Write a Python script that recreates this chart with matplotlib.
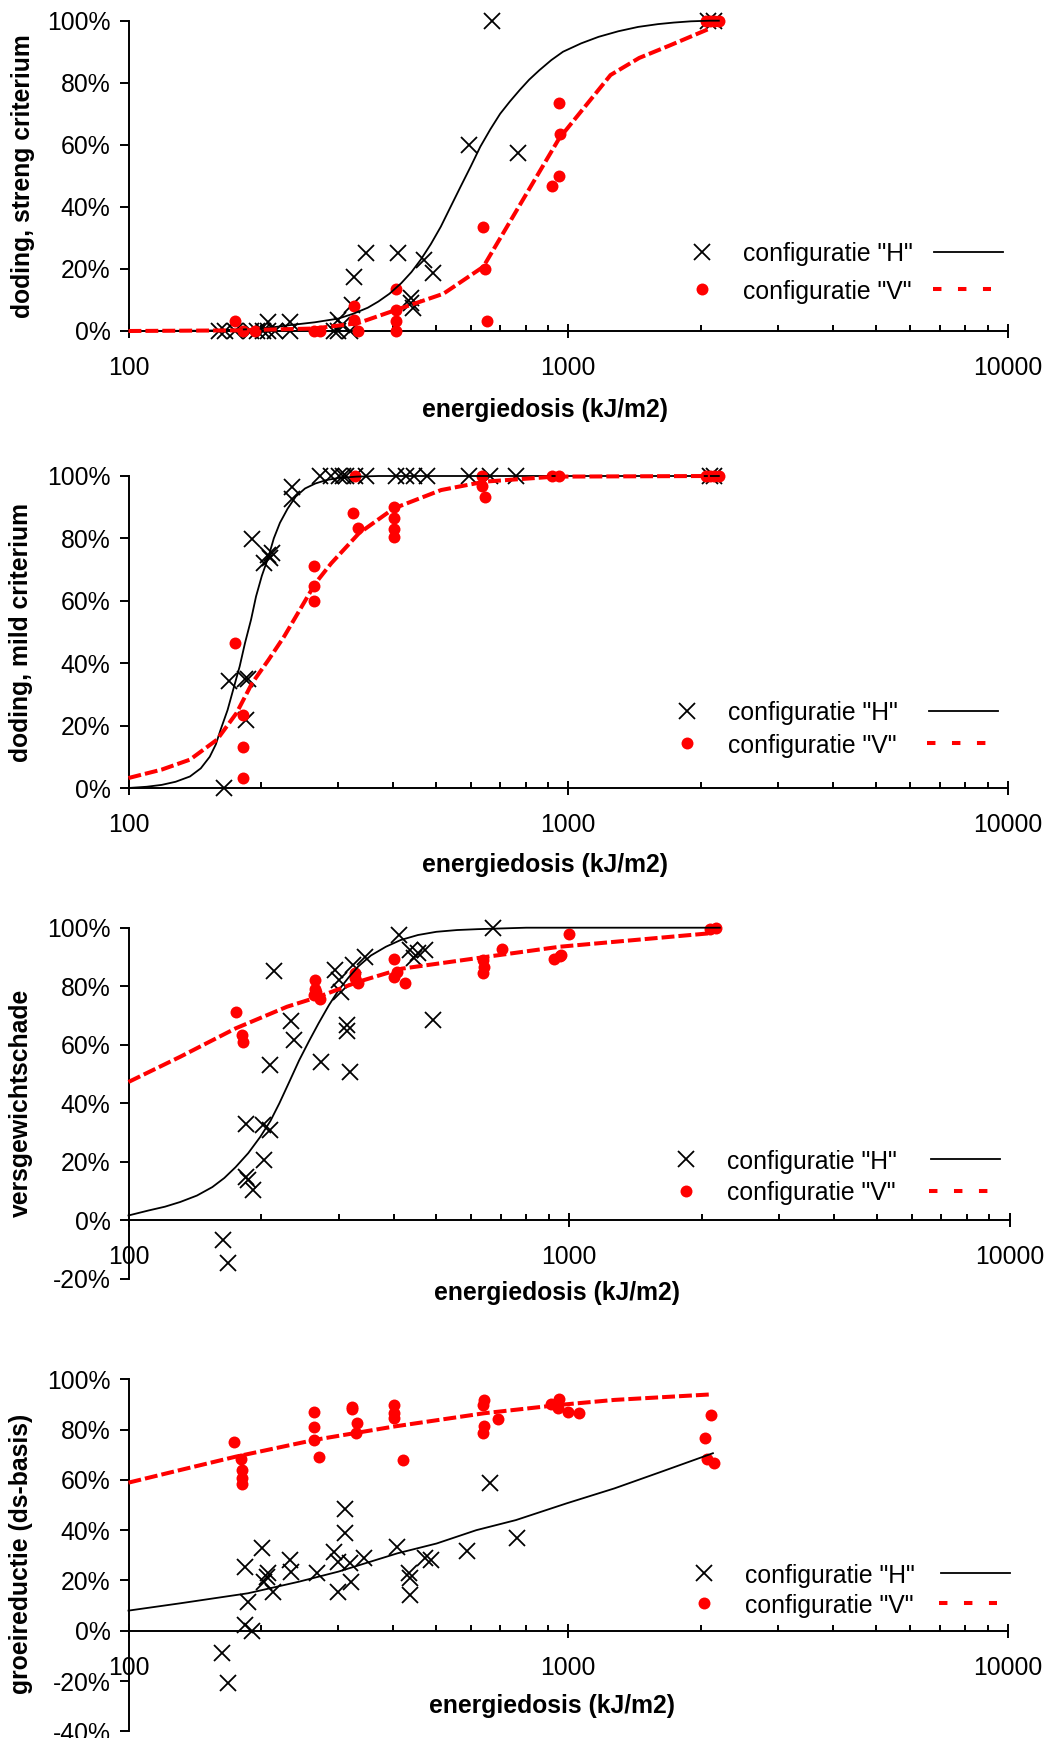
import matplotlib
matplotlib.use("Agg")
import matplotlib.pyplot as plt
from matplotlib.ticker import FixedLocator, NullFormatter
from matplotlib.lines import Line2D

plt.rcParams['font.family'] = ['Liberation Sans', 'DejaVu Sans']

# ---------------- data (energiedosis kJ/m2, percentages) ----------------
# Panel 1: doding, streng criterium
p1_h_x = [161, 166, 175, 190, 196, 202, 208, 208, 215, 233, 233, 293, 299, 299, 306, 319,
          322, 325, 347, 411, 440, 440, 443, 470, 492, 595, 671, 767, 2080, 2150]
p1_h_y = [0, 0, 0, 0, 0, 0, 3, 0, 0, 3, 0, 0, 3.5, 0, 2, 0,
          8.4, 17.5, 25, 25, 10.5, 9, 7.3, 22.9, 18.8, 60, 100, 57.5, 100, 100]
p1_v_x = [175, 182, 194, 264, 272, 325, 325, 332, 406, 406, 406, 406, 641, 646, 653,
          920, 953, 953, 959, 2060, 2100, 2150, 2200]
p1_v_y = [3.3, 0, 0, 0, 0, 8, 3.5, 0, 13.4, 6.8, 3.3, 0, 33.4, 20, 3.3,
          46.7, 50, 73.4, 63.4, 100, 100, 100, 100]
p1_hfit_x = [100, 150, 200, 233, 265, 300, 325, 350, 370, 392, 417, 440, 462, 487, 513, 540,
             569, 600, 631, 665, 700, 737, 776, 815, 859, 915, 973, 1070, 1172, 1300, 1442,
             1600, 1738, 1900, 2094, 2200]
p1_hfit_y = [0, 0.1, 0.7, 1.9, 2.8, 4, 5.6, 7.5, 9.5, 12, 15.4, 19, 23, 28, 33.6, 40,
             46.5, 53, 59.4, 65, 70, 74, 77.7, 81, 84, 87.3, 90, 92.7, 94.8, 96.6, 98,
             98.9, 99.4, 99.8, 100, 100]
p1_vfit_x = [100, 175, 264, 332, 406, 520, 641, 953, 1248, 1450, 1700, 2100]
p1_vfit_y = [0, 0.2, 0.8, 2.5, 6.8, 12, 20.7, 62, 82.5, 88, 92, 97.5]

# Panel 2: doding, mild criterium
p2_h_x = [165, 169, 184.5, 187, 185, 191, 203, 208, 212, 210, 235, 235, 272, 289, 301, 307,
          313, 327, 347, 405, 427, 445, 478, 594, 665, 760, 2100, 2150]
p2_h_y = [0, 34.4, 34.9, 35, 21.9, 79.7, 72, 74.7, 75.2, 73.6, 92.5, 96.5, 100, 100, 100, 100,
          100, 100, 100, 100, 100, 100, 100, 100, 100, 100, 100, 100]
p2_v_x = [175, 182, 182, 182, 264, 264, 264, 324, 332, 327, 402, 402, 402, 402, 638, 638,
          647, 920, 953, 2060, 2100, 2150, 2200]
p2_v_y = [46.6, 23.3, 13.3, 3.2, 71, 64.6, 60, 88, 83.2, 100, 90, 86.4, 83, 80.6, 100, 96.8,
          93.2, 100, 100, 100, 100, 100, 100]
p2_hfit_x = [100, 110, 119, 128, 138, 146, 153, 158, 162, 168, 173, 179, 184, 190, 195, 201,
             208, 214, 221, 230, 240, 252, 266, 282, 301, 330, 370, 2200]
p2_hfit_y = [0, 0.4, 1, 2, 3.7, 6.3, 10, 14, 18.7, 25, 31.5, 39, 46.4, 54, 61.4, 68,
             74, 80, 85, 89.5, 93.4, 96, 97.6, 98.7, 99.4, 99.8, 100, 100]
p2_vfit_x = [100, 119, 138, 159, 176, 191, 208, 226, 245, 266, 289, 334, 401, 514, 646, 933, 2100]
p2_vfit_y = [3.2, 5.9, 9.1, 15.5, 24, 33.6, 41, 48.6, 57, 65.6, 72, 81.6, 89.6, 95.5, 98.2, 99.8, 100]

# Panel 3: versgewichtschade
p3_h_x = [164, 168, 185, 185, 187, 192, 202, 209, 203, 209, 214, 234, 237, 273, 294, 300,
          303, 313, 313, 319, 323, 345, 411, 435, 444, 454, 472, 491, 671]
p3_h_y = [-6.8, -14.6, 33.1, 14.8, 13.7, 10.5, 32.5, 30.8, 20.5, 53, 85.3, 68.2, 61.8, 54, 85.5, 82,
          78, 66.7, 64.8, 50.7, 87.2, 90, 97.5, 92.4, 89.5, 91.4, 92.4, 68.4, 100]
p3_v_x = [175, 181, 182, 265, 265, 264, 267, 272, 326, 326, 332, 401, 407, 401, 424,
          638, 640, 638, 703, 925, 953, 958, 998, 2089, 2158]
p3_v_y = [71.3, 63.3, 61, 82, 79.2, 77, 78, 75.5, 84.4, 82.7, 81, 89.2, 85, 83.2, 81,
          89, 86.7, 84.6, 92.6, 89.2, 90.3, 90.8, 97.7, 99.4, 100]
p3_hfit_x = [100, 111, 121, 131, 143, 155, 165, 175, 187, 199, 210, 220, 232, 244, 257, 270,
             285, 300, 316, 332, 355, 384, 415, 454, 500, 557, 620, 685, 800, 2200]
p3_hfit_y = [1.7, 3.4, 4.7, 6.3, 8.5, 11.4, 14.5, 18.2, 23, 28.5, 34, 40, 47.5, 54.7, 61.3, 67.3,
             73.5, 78.7, 83, 86.7, 90.5, 93.5, 95.8, 97.5, 98.6, 99.2, 99.5, 99.7, 100, 100]
p3_vfit_x = [100, 131, 175, 229, 270, 332, 417, 646, 953, 2089]
p3_vfit_y = [47.3, 55.9, 65.6, 73, 76.4, 81.5, 86, 90, 93.5, 98.1]

# Panel 4: groeireductie (ds-basis)
p4_h_x = [163, 168, 184, 184, 187, 191, 201, 203, 207, 208, 213, 233, 234, 269, 294, 300,
          300, 311, 311, 319, 320, 343, 407, 435, 437, 437, 472, 487, 590, 664, 763]
p4_h_y = [-8.8, -20.7, 25.5, 2.2, 11.5, 0, 32.8, 19.5, 21.5, 22.8, 15.5, 28.1, 23.5, 22.8, 31.4, 27.5,
          15.5, 48.3, 38.7, 26.8, 19.5, 28.8, 33.4, 22.8, 20.8, 14.2, 28.8, 28.1, 31.8, 58.6, 37]
p4_v_x = [174, 180, 181, 181, 181, 264, 264, 264, 271, 323, 323, 330, 329, 401, 401, 402, 422,
          644, 641, 643, 640, 692, 912, 953, 950, 998, 1057, 2114, 2049, 2069, 2142]
p4_v_y = [75.2, 68.2, 63.9, 60.6, 58.4, 87.1, 80.9, 75.9, 69.2, 89.1, 88.1, 82.5, 78.8, 89.8, 86.5,
          84.5, 67.9, 91.8, 89.8, 81.4, 78.8, 84.1, 90.1, 92, 88.5, 87.1, 86.7, 85.8, 76.5, 68.2, 66.6]
p4_hfit_x = [100, 131, 187, 244, 300, 409, 502, 618, 760, 993, 1273, 1632, 2133]
p4_hfit_y = [8, 10.9, 14.9, 19.5, 23.5, 30.8, 34.7, 40, 44, 50.7, 56.6, 63.3, 70.6]
p4_vfit_x = [100, 131, 175, 265, 401, 644, 953, 1273, 2114]
p4_vfit_y = [58.9, 63.9, 69.2, 75.9, 81.2, 86.5, 89.8, 91.8, 94]

ylabels = ["doding, streng criterium", "doding, mild criterium",
           "versgewichtschade", "groeireductie (ds-basis)"]
xlabel_text = "energiedosis (kJ/m2)"
legend_labels = ['configuratie "H"', 'configuratie "V"']
x_ticks = [100, 1000, 10000]
x_ticklabels = ["100", "1000", "10000"]

# ---------------- layout ----------------
W, H = 1047, 1738
fig = plt.figure(figsize=(W / 100, H / 100), dpi=100)
FS = 17.8
RED = '#FF0000'
DOT = 8.6


def fx(px):
    return px / W


def fy(py):
    return 1 - py / H


panels = [
    dict(box=(128.5, 1008, 20.7, 331), ylim=(0, 100), yt=[0, 20, 40, 60, 80, 100],
         hx=p1_h_x, hy=p1_h_y, vx=p1_v_x, vy=p1_v_y,
         hfx=p1_hfit_x, hfy=p1_hfit_y, vfx=p1_vfit_x, vfy=p1_vfit_y,
         ylab_c=(23, 176), xlab_c=(545, 410),
         leg=dict(mx=701.7, my=(251.7, 289.3), tx=742.7, hl=(934, 1003), vl=(932.7, 991))),
    dict(box=(128.5, 1008, 476, 788), ylim=(0, 100), yt=[0, 20, 40, 60, 80, 100],
         hx=p2_h_x, hy=p2_h_y, vx=p2_v_x, vy=p2_v_y,
         hfx=p2_hfit_x, hfy=p2_hfit_y, vfx=p2_vfit_x, vfy=p2_vfit_y,
         ylab_c=(21, 632), xlab_c=(545, 865),
         leg=dict(mx=687.3, my=(710.7, 743.3), tx=728, hl=(928.7, 998), vl=(927, 986))),
    dict(box=(128.5, 1009.5, 927.7, 1279), ylim=(-20, 100), yt=[-20, 0, 20, 40, 60, 80, 100],
         hx=p3_h_x, hy=p3_h_y, vx=p3_v_x, vy=p3_v_y,
         hfx=p3_hfit_x, hfy=p3_hfit_y, vfx=p3_vfit_x, vfy=p3_vfit_y,
         ylab_c=(21, 1103), xlab_c=(557, 1293),
         leg=dict(mx=685.7, my=(1159.3, 1190.7), tx=727.3, hl=(931, 1000), vl=(929.3, 988))),
    dict(box=(128.5, 1008, 1379.3, 1731.3), ylim=(-40, 100), yt=[-40, -20, 0, 20, 40, 60, 80, 100],
         hx=p4_h_x, hy=p4_h_y, vx=p4_v_x, vy=p4_v_y,
         hfx=p4_hfit_x, hfy=p4_hfit_y, vfx=p4_vfit_x, vfy=p4_vfit_y,
         ylab_c=(21, 1554), xlab_c=(552, 1706),
         leg=dict(mx=704.3, my=(1573.3, 1603.3), tx=745, hl=(940.7, 1010), vl=(939, 997))),
]

for i, p in enumerate(panels):
    l, r, t, b = p['box']
    ax = fig.add_axes([fx(l), fy(b), (r - l) / W, (b - t) / H])
    ax.set_xscale('log')
    ax.set_xlim(100, 10000)
    ax.set_ylim(*p['ylim'])
    for s in ['top', 'right']:
        ax.spines[s].set_visible(False)
    ax.spines['left'].set_linewidth(1.4)
    ax.spines['bottom'].set_linewidth(1.4)
    ax.spines['bottom'].set_position(('data', 0))
    ax.patch.set_alpha(0)

    ax.xaxis.set_major_locator(FixedLocator(x_ticks))
    ax.set_xticklabels(x_ticklabels)
    minors = [m * d for d in (100, 1000) for m in range(2, 10)]
    ax.xaxis.set_minor_locator(FixedLocator(minors))
    ax.xaxis.set_minor_formatter(NullFormatter())
    ax.set_yticks(p['yt'])
    ax.set_yticklabels([f"{v}%" for v in p['yt']])
    ax.yaxis.set_minor_locator(FixedLocator([]))

    ax.tick_params(axis='y', which='major', direction='out', length=6.5, width=1.4,
                   pad=6.5, labelsize=FS)
    ax.tick_params(axis='x', which='major', direction='inout', length=10, width=1.4,
                   pad=13, labelsize=FS)
    ax.tick_params(axis='x', which='minor', direction='in', length=4, width=1.4)

    # data
    ax.plot(p['hx'], p['hy'], linestyle='none', marker='x', color='black',
            markersize=11, markeredgewidth=1.3, clip_on=False, zorder=3)
    ax.plot(p['vx'], p['vy'], linestyle='none', marker='o', color=RED,
            markersize=DOT, markeredgewidth=0, clip_on=False, zorder=4)
    ax.plot(p['hfx'], p['hfy'], color='black', linewidth=1.3, clip_on=False, zorder=5)
    ax.plot(p['vfx'], p['vfy'], color=RED, linewidth=2.9, dashes=(3.2, 1.0),
            solid_capstyle='butt', dash_capstyle='butt', clip_on=False, zorder=6)

    # axis titles
    fig.text(fx(p['ylab_c'][0]), fy(p['ylab_c'][1]), ylabels[i], rotation=90,
             ha='center', va='center', fontsize=FS, fontweight='bold')
    fig.text(fx(p['xlab_c'][0]), fy(p['xlab_c'][1]), xlabel_text,
             ha='center', va='center', fontsize=FS, fontweight='bold')

    # legend (Excel style: marker, text, line)
    lg = p['leg']
    y1, y2 = lg['my']
    fig.add_artist(Line2D([fx(lg['mx'])], [fy(y1)], marker='x', color='black',
                          markersize=11, markeredgewidth=1.3, linestyle='none'))
    fig.add_artist(Line2D([fx(lg['mx'])], [fy(y2)], marker='o', color=RED,
                          markersize=DOT, markeredgewidth=0, linestyle='none'))
    fig.text(fx(lg['tx']), fy(y1), legend_labels[0], ha='left', va='center_baseline', fontsize=FS)
    fig.text(fx(lg['tx']), fy(y2), legend_labels[1], ha='left', va='center_baseline', fontsize=FS)
    fig.add_artist(Line2D([fx(lg['hl'][0]), fx(lg['hl'][1])], [fy(y1), fy(y1)],
                          color='black', linewidth=1.3))
    fig.add_artist(Line2D([fx(lg['vl'][0]), fx(lg['vl'][1])], [fy(y2), fy(y2)],
                          color=RED, linewidth=2.9, dashes=(2.1, 4.1),
                          dash_capstyle='butt', solid_capstyle='butt'))

fig.savefig('out.png', dpi=100)
